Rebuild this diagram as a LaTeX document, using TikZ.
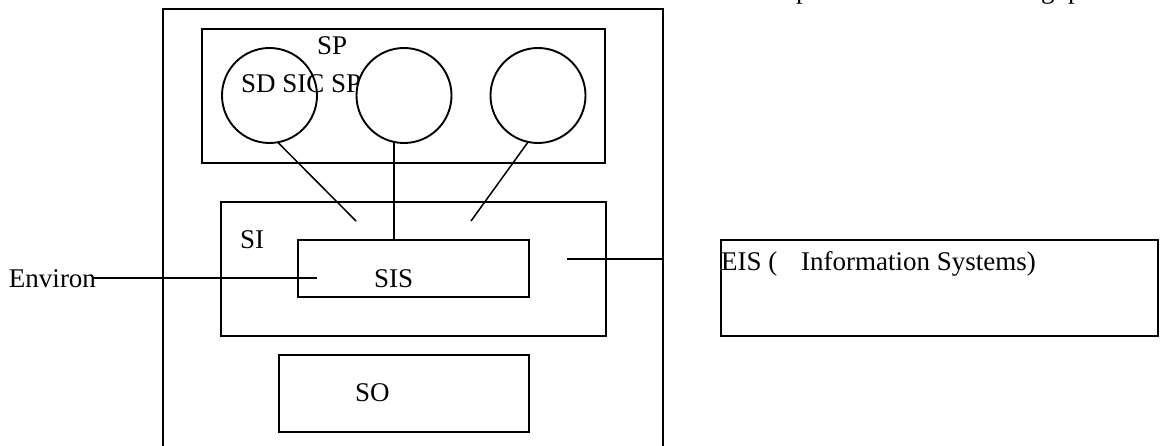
\documentclass[tikz,border=0pt]{standalone}
\usepackage{fontspec}
\setmainfont{Liberation Serif}
\begin{document}
\begin{tikzpicture}[x=1pt,y=-1pt,
  every node/.style={inner sep=0pt,outer sep=0pt},
  txt/.style={anchor=base west,font=\fontsize{27}{31}\selectfont},
  box/.style={draw,rectangle,line width=2pt},
  thinbox/.style={draw,rectangle,line width=1.5pt},
  bubble/.style={draw,circle,line width=1.9pt,minimum size=95pt},
  conn/.style={line width=1.5pt}]
\useasboundingbox (0,0) rectangle (1166,446);
\begin{scope}
\clip (0,0) rectangle (1166,446);
% outer system box (bottom edge beyond the picture)
\node[thinbox,minimum width=500pt,minimum height=451pt] (outer) at (413,234.5) {};
% fragments of a caption line cut by the top edge
\node[txt] (capA) at (796,-1.5) {p};
\node[txt] (capB) at (1041,-1.5) {g};
\node[txt] (capC) at (1068,-1.5) {p};
\end{scope}
% SP box with processes
\node[box,line width=1.9pt,minimum width=403pt,minimum height=134pt] (sp) at (403.5,96) {};
\node[txt] (splab) at (317,55) {SP};
\node[bubble] (c1) at (269.5,95.5) {};
\node[txt] (sdlab) at (241,93) {SD SIC SP};
\node[bubble,fill=white] (c2) at (404,95.5) {};
\node[bubble,fill=white] (c3) at (538,95.5) {};
% SI box and SIS
\node[box,line width=2.5pt,minimum width=385pt,minimum height=134pt] (si) at (413.5,269) {};
\node[txt] (silab) at (240,248) {SI};
\node[box,line width=2.5pt,minimum width=231pt,minimum height=57pt] (sis) at (413.5,268.5) {};
\node[txt] (sislab) at (374,287) {SIS};
% SO box
\node[box,line width=1.9pt,minimum width=250pt,minimum height=77pt] (so) at (404,393.5) {};
\node[txt] (solab) at (355,401) {SO};
% EIS box
\node[box,line width=1.9pt,minimum width=437pt,minimum height=96pt] (eis) at (939.5,288) {};
\node[txt] (eislab) at (721,270) {EIS (\hspace{24pt}Information Systems)};
% Environment label
\node[txt] (env) at (9,287) {Environ};
% free ends of connectors
\coordinate (e1) at (356,221);
\coordinate (e3) at (471,221);
\coordinate (envEnd) at (317,278);
\coordinate (siOut) at (567,259);
% connectors
\draw[conn] (c1.-80) -- (e1);
\draw[conn] (c2.-102) -- (c2.-102 |- sis.north);
\draw[conn] (c3.-102) -- (e3);
\draw[conn] ([xshift=-4pt]env.east |- envEnd) -- (envEnd);
\draw[conn] (siOut) -- (siOut -| outer.east);
\end{tikzpicture}
\end{document}
